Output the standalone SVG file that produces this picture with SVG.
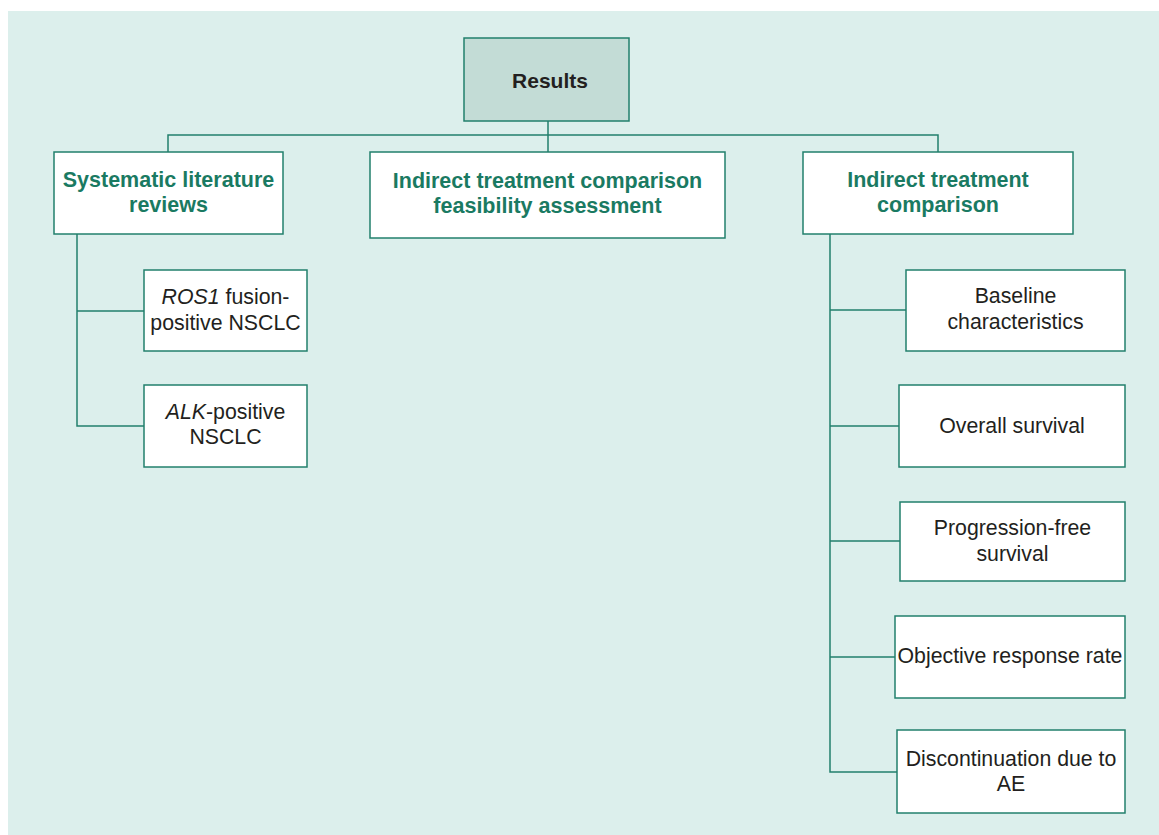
<svg xmlns="http://www.w3.org/2000/svg" width="1159" height="835" viewBox="0 0 1159 835">
<style>
.box{fill:#ffffff;stroke:#22806c;stroke-width:1.5}
.root{fill:#c3dcd6;stroke:#22806c;stroke-width:1.5}
.head{font-family:"Liberation Sans",Arial,sans-serif;font-size:21.5px;font-weight:bold;fill:#1a7a62;text-anchor:middle}
.rt{font-family:"Liberation Sans",Arial,sans-serif;font-size:21px;font-weight:bold;fill:#231f20;text-anchor:middle}
.body{font-family:"Liberation Sans",Arial,sans-serif;font-size:21.3px;fill:#231f20;text-anchor:middle}
.conn{fill:none;stroke:#22806c;stroke-width:1.5}
</style>
<rect x="8" y="11" width="1151" height="824" fill="#dcefec"/>
<g id="connectors">
<path class="conn" d="M548 121V135M168 152V135H938V152M548 135V152"/>
<path class="conn" d="M77 234V426H144M77 311H144"/>
<path class="conn" d="M830 234V772H897M830 310H906M830 426H899M830 541H900M830 657H895"/>
</g>
<g id="results"><rect class="root" x="464" y="38" width="165" height="83"/><text class="rt" x="550" y="88">Results</text></g>
<g id="slr"><rect class="box" x="54" y="152" width="229" height="82"/><text class="head" x="168.5" y="187">Systematic literature</text><text class="head" x="168.5" y="212">reviews</text></g>
<g id="itcfa"><rect class="box" x="370" y="152" width="355" height="86"/><text class="head" x="547.5" y="188">Indirect treatment comparison</text><text class="head" x="547.5" y="213">feasibility assessment</text></g>
<g id="itc"><rect class="box" x="803" y="152" width="270" height="82"/><text class="head" x="938" y="187">Indirect treatment</text><text class="head" x="938" y="212">comparison</text></g>
<g id="ros1"><rect class="box" x="144" y="270" width="163" height="81"/><text class="body" x="225.5" y="304"><tspan font-style="italic">ROS1</tspan> fusion-</text><text class="body" x="225.5" y="330">positive NSCLC</text></g>
<g id="alk"><rect class="box" x="144" y="385" width="163" height="82"/><text class="body" x="225.5" y="419"><tspan font-style="italic">ALK</tspan>-positive</text><text class="body" x="225.5" y="444">NSCLC</text></g>
<g id="baseline"><rect class="box" x="906" y="270" width="219" height="81"/><text class="body" x="1015.5" y="303">Baseline</text><text class="body" x="1015.5" y="329">characteristics</text></g>
<g id="os"><rect class="box" x="899" y="385" width="226" height="82"/><text class="body" x="1012" y="433">Overall survival</text></g>
<g id="pfs"><rect class="box" x="900" y="502" width="225" height="79"/><text class="body" x="1012.5" y="535">Progression-free</text><text class="body" x="1012.5" y="561">survival</text></g>
<g id="orr"><rect class="box" x="895" y="616" width="230" height="82"/><text class="body" x="1010" y="663">Objective response rate</text></g>
<g id="disc"><rect class="box" x="897" y="730" width="228" height="83"/><text class="body" x="1011" y="766">Discontinuation due to</text><text class="body" x="1011" y="791">AE</text></g>
</svg>
